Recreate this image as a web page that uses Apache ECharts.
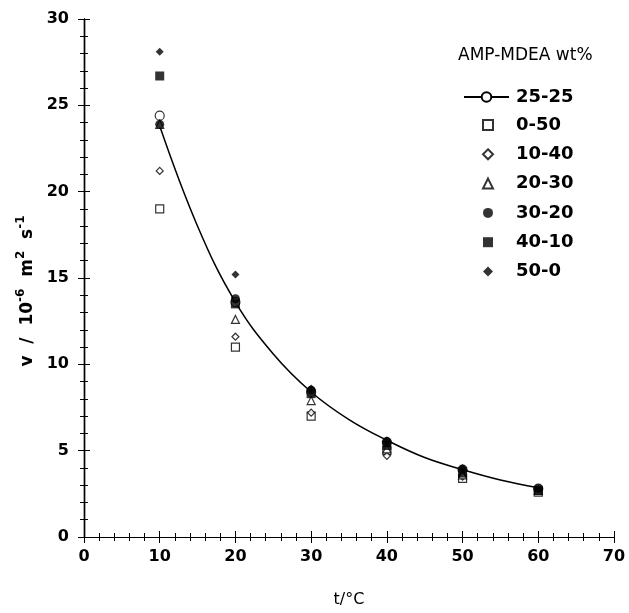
<!DOCTYPE html>
<html>
<head>
<meta charset="utf-8">
<title>Kinematic viscosity of AMP-MDEA solutions</title>
<script src="https://cdn.jsdelivr.net/npm/echarts@6/dist/echarts.min.js"></script>
<style>
  html, body { margin: 0; padding: 0; background: #fff; }
  #chart { width: 629px; height: 613px; }
</style>
</head>
<body>
<div id="chart"></div>
<script>
// temperatures, t / °C
const temps = [10, 20, 30, 40, 50, 60];

// measured viscosity, v / 10^-6 m^2 s^-1, per blend (AMP-MDEA wt%)
const blend2525 = [24.4, 13.6, 8.4, 5.5, 3.9, 2.8];
const blend050 = [19.0, 11.0, 7.0, 5.0, 3.4, 2.6];
const blend1040 = [21.2, 11.6, 7.2, 4.7, 3.5, 2.7];
const blend2030 = [23.9, 12.6, 7.9, 5.1, 3.6, 2.7];
const blend3020 = [23.9, 13.8, 8.5, 5.5, 3.9, 2.8];
const blend4010 = [26.7, 13.5, 8.3, 5.3, 3.7, 2.7];
const blend500 = [28.1, 15.2, 8.6, 5.6, 4.0, 2.8];

// correlation curve for 25-25
const fitT = [10, 15, 20, 25, 30, 35, 40, 45, 50, 55, 60];
const fitV = [23.8, 18.0, 13.6, 10.6, 8.4, 6.8, 5.6, 4.6, 3.9, 3.3, 2.85];

const xTicks = [0, 10, 20, 30, 40, 50, 60, 70];
const yTicks = [0, 5, 10, 15, 20, 25, 30];

(function () {
  const FONT = '"DejaVu Sans", Verdana, sans-serif';
  const chart = echarts.init(document.getElementById('chart'), null, { renderer: 'canvas' });

  function pairs (xs, ys) { return xs.map((x, i) => [x, ys[i]]); }

  const black = '#000';
  const lbl = { color: black, fontFamily: FONT, fontSize: 16, fontWeight: 'bold' };

  function xAx (pos, opts) {
    return Object.assign({
      type: 'value', position: pos, min: xTicks[0], max: xTicks[xTicks.length - 1], interval: 10,
      axisLine: { show: true, lineStyle: { color: black, width: 1.2 } },
      axisLabel: { show: false },
      axisTick: { show: false },
      minorTick: { show: false },
      splitLine: { show: false }
    }, opts);
  }
  function yAx (pos, opts) {
    return Object.assign({
      type: 'value', position: pos, min: yTicks[0], max: yTicks[yTicks.length - 1], interval: 5,
      axisLine: { show: true, lineStyle: { color: black, width: 1.2 } },
      axisLabel: { show: false },
      axisTick: { show: false },
      minorTick: { show: false },
      splitLine: { show: false }
    }, opts);
  }
  const inTick = { show: true, inside: true, length: 6, lineStyle: { color: black, width: 1 } };
  const outTick = { show: true, inside: false, length: 5, lineStyle: { color: black, width: 1 } };
  const minor = { show: true, splitNumber: 5, length: 4, lineStyle: { color: black } };

  const openStyle = { color: '#fff', borderColor: black, borderWidth: 1.2 };
  const fillStyle = { color: black, borderColor: black, borderWidth: 0 };

  function pts (name, data, symbol, size, style) {
    return {
      name: name, type: 'scatter', data: pairs(temps, data),
      symbol: symbol, symbolSize: size, itemStyle: style, z: 3
    };
  }

  const legendText = { color: black, fontFamily: FONT, fontSize: 18, fontWeight: 'bold', lineHeight: 18 };

  chart.setOption({
    animation: false,
    backgroundColor: '#fff',
    title: {
      text: 'AMP-MDEA wt%', left: 453, top: 42,
      textStyle: { color: black, fontFamily: FONT, fontSize: 17, fontWeight: 'normal' }
    },
    legend: [
      {
        orient: 'vertical', left: 458, top: 83, itemWidth: 45, itemHeight: 12,
        textStyle: Object.assign({ padding: [0, 0, 0, 2] }, legendText),
        data: ['25-25']
      },
      {
        orient: 'vertical', left: 477, top: 111, itemWidth: 10, itemHeight: 10, itemGap: 11.3,
        textStyle: Object.assign({ padding: [0, 0, 0, 18] }, legendText),
        data: ['0-50', '10-40', '20-30', '30-20', '40-10', '50-0']
      }
    ],
    grid: { left: 84, right: 15, top: 19, bottom: 60, containLabel: false },
    xAxis: [
      xAx('bottom', {
        axisLabel: Object.assign({ show: true, margin: 12 }, lbl),
        axisTick: inTick,
        minorTick: minor,
        name: 't/°C', nameLocation: 'middle', nameGap: 55,
        nameTextStyle: { color: black, fontFamily: FONT, fontSize: 16, fontWeight: 'normal' }
      }),
      xAx('bottom', { axisTick: outTick }),
      xAx('top', { axisTick: inTick, minorTick: minor }),
      xAx('top', { axisTick: outTick })
    ],
    yAxis: [
      yAx('left', {
        axisLabel: Object.assign({ show: true, margin: 15 }, lbl),
        axisTick: inTick,
        minorTick: minor,
        name: '{n|v  /  10}{s|-6}{n|  m}{s|2}{n|  s}{s|-1}',
        nameLocation: 'middle', nameGap: 37, nameRotate: 90,
        nameTextStyle: {
          color: black, fontFamily: FONT, fontSize: 17, fontWeight: 'bold',
          padding: [0, 26, 0, 0],
          rich: {
            n: { color: black, fontFamily: FONT, fontSize: 17, fontWeight: 'bold', lineHeight: 24 },
            s: { color: black, fontFamily: FONT, fontSize: 12, fontWeight: 'bold', lineHeight: 13, verticalAlign: 'top' }
          }
        }
      }),
      yAx('left', { axisTick: outTick }),
      yAx('right', { axisTick: inTick, minorTick: minor }),
      yAx('right', { axisTick: outTick })
    ],
    series: [
      {
        name: '25-25', type: 'line', data: pairs(fitT, fitV), smooth: 0.4,
        symbol: 'emptyCircle', symbolSize: 10, showSymbol: false,
        lineStyle: { color: black, width: 1.5 }, itemStyle: { color: black, borderColor: black }, z: 2
      },
      pts('25-25', blend2525, 'circle', 9, openStyle),
      pts('0-50', blend050, 'rect', 8, openStyle),
      pts('10-40', blend1040, 'diamond', 7, openStyle),
      pts('20-30', blend2030, 'triangle', 8, openStyle),
      pts('30-20', blend3020, 'circle', 9, fillStyle),
      pts('40-10', blend4010, 'rect', 9, fillStyle),
      pts('50-0', blend500, 'diamond', 8, fillStyle)
    ]
  });

  window.addEventListener('resize', () => chart.resize());
})();
</script>
</body>
</html>
